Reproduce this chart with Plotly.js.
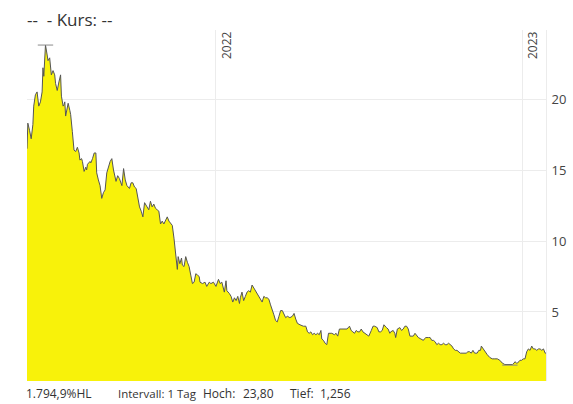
<!DOCTYPE html>
<html>
<head>
<meta charset="utf-8">
<script src="https://cdn.plot.ly/plotly-3.0.1.min.js"></script>
<style>html,body{margin:0;padding:0;background:#fff;}#chart{width:573px;height:404px;}</style>
</head>
<body>
<div id="chart"></div>
<script>
// Kursdaten (Tagesintervall)
var dates = [
"2021-05-21","2021-05-22","2021-05-24","2021-05-26","2021-05-28","2021-05-29","2021-05-31","2021-06-02","2021-06-04","2021-06-06",
"2021-06-08","2021-06-09","2021-06-10","2021-06-12","2021-06-14","2021-06-15","2021-06-17","2021-06-18","2021-06-19","2021-06-21",
"2021-06-23","2021-06-24","2021-06-26","2021-06-28","2021-06-30","2021-07-01","2021-07-03","2021-07-04","2021-07-05","2021-07-06",
"2021-07-09","2021-07-11","2021-07-12","2021-07-14","2021-07-16","2021-07-18","2021-07-20","2021-07-22","2021-07-23","2021-07-25",
"2021-07-26","2021-07-28","2021-07-30","2021-07-31","2021-08-01","2021-08-04","2021-08-05","2021-08-07","2021-08-09","2021-08-11",
"2021-08-12","2021-08-14","2021-08-16","2021-08-18","2021-08-20","2021-08-22","2021-08-24","2021-08-28","2021-08-30","2021-09-01",
"2021-09-04","2021-09-06","2021-09-08","2021-09-11","2021-09-12","2021-09-13","2021-09-15","2021-09-17","2021-09-20","2021-09-22",
"2021-09-24","2021-09-26","2021-09-28","2021-09-30","2021-10-02","2021-10-04","2021-10-06","2021-10-08","2021-10-10","2021-10-13",
"2021-10-15","2021-10-17","2021-10-19","2021-10-21","2021-10-23","2021-10-25","2021-10-27","2021-10-29","2021-10-31","2021-11-02",
"2021-11-04","2021-11-06","2021-11-08","2021-11-10","2021-11-12","2021-11-14","2021-11-16","2021-11-17","2021-11-19","2021-11-21",
"2021-11-22","2021-11-24","2021-11-26","2021-11-28","2021-11-30","2021-12-02","2021-12-04","2021-12-06","2021-12-08","2021-12-10",
"2021-12-12","2021-12-13","2021-12-16","2021-12-19","2021-12-21","2021-12-24","2021-12-26","2021-12-29","2022-01-01","2022-01-04",
"2022-01-06","2022-01-08","2022-01-10","2022-01-11","2022-01-13","2022-01-14","2022-01-17","2022-01-19","2022-01-21","2022-01-23",
"2022-01-25","2022-01-27","2022-01-29","2022-01-30","2022-02-01","2022-02-03","2022-02-05","2022-02-07","2022-02-09","2022-02-11",
"2022-02-13","2022-02-15","2022-02-17","2022-02-19","2022-02-21","2022-02-23","2022-02-25","2022-02-27","2022-03-01","2022-03-03",
"2022-03-05","2022-03-07","2022-03-09","2022-03-11","2022-03-13","2022-03-15","2022-03-17","2022-03-19","2022-03-21","2022-03-23",
"2022-03-25","2022-03-27","2022-03-29","2022-03-30","2022-04-02","2022-04-04","2022-04-06","2022-04-08","2022-04-11","2022-04-15",
"2022-04-18","2022-04-20","2022-04-22","2022-04-24","2022-04-26","2022-04-28","2022-04-30","2022-05-02","2022-05-04","2022-05-06",
"2022-05-07","2022-05-09","2022-05-11","2022-05-13","2022-05-15","2022-05-17","2022-05-19","2022-05-22","2022-05-24","2022-05-26",
"2022-05-28","2022-05-31","2022-06-03","2022-06-06","2022-06-09","2022-06-11","2022-06-13","2022-06-15","2022-06-17","2022-06-19",
"2022-06-21","2022-06-23","2022-06-25","2022-06-27","2022-06-30","2022-07-02","2022-07-05","2022-07-07","2022-07-09","2022-07-12",
"2022-07-14","2022-07-16","2022-07-18","2022-07-20","2022-07-23","2022-07-25","2022-07-27","2022-07-28","2022-07-31","2022-08-02",
"2022-08-03","2022-08-05","2022-08-08","2022-08-10","2022-08-12","2022-08-14","2022-08-16","2022-08-18","2022-08-20","2022-08-24",
"2022-08-26","2022-08-28","2022-08-30","2022-09-02","2022-09-05","2022-09-06","2022-09-08","2022-09-11","2022-09-13","2022-09-15",
"2022-09-17","2022-09-19","2022-09-21","2022-09-23","2022-09-25","2022-09-27","2022-09-29","2022-10-01","2022-10-03","2022-10-05",
"2022-10-07","2022-10-09","2022-10-11","2022-10-13","2022-10-15","2022-10-17","2022-10-19","2022-10-21","2022-10-24","2022-10-26",
"2022-10-28","2022-10-30","2022-11-01","2022-11-03","2022-11-05","2022-11-08","2022-11-10","2022-11-12","2022-11-13","2022-11-15",
"2022-11-17","2022-11-20","2022-11-23","2022-11-26","2022-11-29","2022-12-02","2022-12-05","2022-12-08","2022-12-11","2022-12-14",
"2022-12-17","2022-12-20","2022-12-22","2022-12-23","2022-12-25","2022-12-26","2022-12-29","2022-12-31","2023-01-02","2023-01-04",
"2023-01-06","2023-01-08","2023-01-10","2023-01-12","2023-01-14","2023-01-16","2023-01-18","2023-01-20","2023-01-22","2023-01-24",
"2023-01-26","2023-01-28","2023-01-29"
];
var prices = [
16.5,18.3,17.8,17.2,18.2,19.5,20.3,20.5,19.5,19.8,
20.5,22.2,21.6,23.8,23.1,22.7,22.9,22.4,21.7,22.0,
21.7,21.1,20.6,21.2,21.7,20.2,19.5,19.6,19.8,18.8,
19.7,19.2,18.9,17.7,16.4,16.3,16.6,16.2,15.7,15.8,
15.6,14.9,15.2,15.0,15.4,15.6,15.5,15.8,16.2,16.2,
14.8,14.3,13.9,13.0,13.4,13.6,14.8,15.6,15.8,15.0,
14.2,14.6,14.4,13.9,14.9,15.1,14.3,13.9,13.7,14.1,
14.1,13.8,13.7,13.0,12.4,12.1,11.7,12.7,12.5,12.2,
12.8,12.4,12.6,12.3,12.2,12.1,11.2,11.4,11.2,11.4,
11.7,11.4,11.2,11.1,10.2,9.0,8.0,8.9,8.4,8.8,
8.3,8.2,8.9,8.5,8.2,7.6,7.0,7.1,7.7,7.6,
7.5,7.1,7.0,7.1,6.8,7.1,7.0,7.1,6.8,7.3,
7.0,7.1,6.5,6.4,7.2,6.5,6.3,6.1,5.7,6.0,
5.8,6.1,5.6,6.0,6.4,5.8,6.1,6.4,6.5,6.4,
6.9,6.7,6.4,6.3,6.1,5.8,5.7,6.1,6.0,6.0,
5.9,5.5,5.2,4.8,4.4,4.3,4.7,5.1,5.1,4.9,
4.6,4.7,4.6,4.6,4.7,4.9,4.5,4.2,4.1,4.0,
4.0,3.6,3.5,3.6,3.4,3.5,3.4,3.5,3.4,3.7,
3.1,3.0,2.8,2.7,3.5,3.5,3.5,3.4,3.5,3.3,
3.8,3.8,3.8,3.8,4.0,3.7,3.6,3.5,3.7,3.6,
3.6,3.8,3.6,3.5,3.4,3.3,3.7,4.0,4.0,3.9,
3.6,3.6,3.7,4.1,3.9,3.8,3.5,3.6,3.7,3.5,
3.2,3.8,3.9,3.7,3.8,4.0,4.0,3.8,3.3,3.3,
3.5,3.3,3.2,3.1,3.0,3.1,3.2,3.2,3.2,3.0,
3.0,2.9,2.7,2.8,2.7,2.7,2.8,2.7,2.7,2.8,
2.7,2.6,2.4,2.3,2.3,2.2,2.1,2.1,2.1,2.1,
2.2,2.2,2.1,2.3,2.1,2.1,2.3,2.3,2.6,2.4,
2.2,2.0,1.8,1.7,1.7,1.7,1.6,1.4,1.3,1.3,
1.256,1.3,1.4,1.5,1.4,1.4,1.6,1.6,1.7,1.7,
2.2,2.4,2.3,2.6,2.4,2.4,2.3,2.4,2.4,2.3,
2.4,2.1,2.1
];
var hiDate = ["2021-06-12"], hiVal = [23.80];
var loDate = ["2022-12-17"], loVal = [1.256];
var yTicks = [5, 10, 15, 20];
var xTickVals = ["2022-01-01", "2023-01-01"];
var xTickText = ["2022", "2023"];
var titleText = "--\u00a0\u00a0- Kurs: --";
var footTexts = ["1.794,9%HL", "Intervall: 1 Tag", "Hoch:", "23,80", "Tief:", "1,256"];

var traces = [
  {
    x: dates, y: prices, type: "scatter", mode: "lines",
    fill: "tozeroy", fillcolor: "rgba(248,241,0,0.96)",
    line: {color: "#555", width: 1}, hoverinfo: "skip", showlegend: false
  },
  {
    x: hiDate.concat(loDate), y: hiVal.concat(loVal), type: "scatter", mode: "markers",
    marker: {symbol: "line-ew", size: 11, line: {color: "#8a8a8a", width: 1}, color: "#8a8a8a"},
    showlegend: false, hoverinfo: "skip"
  }
];

// left edges (px) of the footer texts
var footX = [24, 116, 201, 241, 288, 318];
var footSize = [12, 11.5, 12, 12, 12, 12];
var annotations = footTexts.map(function (t, i) {
  return {
    text: t, xref: "paper", yref: "paper", x: (footX[i] - 27) / 519,
    y: -0.036, xanchor: "left", yanchor: "middle", showarrow: false,
    font: {family: "Open Sans, sans-serif", size: footSize[i], color: "#333"}
  };
});

var layout = {
  width: 573, height: 404,
  margin: {l: 27, r: 27, t: 30, b: 23},
  paper_bgcolor: "#fff", plot_bgcolor: "#fff",
  font: {family: "Open Sans, sans-serif", color: "#444"},
  title: {text: titleText, x: 0, xref: "paper", xanchor: "left", y: 0.95, yref: "container", yanchor: "middle",
          font: {family: "Open Sans, sans-serif", size: 17, color: "#333"}},
  xaxis: {
    type: "date", range: [dates[0], dates[dates.length - 1]],
    side: "top", tickvals: xTickVals, ticktext: xTickText, tickangle: -90,
    ticklabelposition: "inside", ticklabelshift: 11, ticklabelstandoff: -8,
    tickfont: {size: 12, color: "#444"},
    showgrid: true, gridcolor: "#ececec", gridwidth: 1, zeroline: false, showline: false, ticks: ""
  },
  yaxis: {
    side: "right", range: [0.14, 24.86], tickvals: yTicks,
    tickfont: {size: 13, color: "#444"}, ticklabelstandoff: 2,
    showgrid: true, gridcolor: "#ececec", zeroline: false,
    showline: true, linecolor: "#ececec", ticks: ""
  },
  annotations: annotations,
  showlegend: false
};

Plotly.newPlot("chart", traces, layout, {displayModeBar: false, staticPlot: true});
</script>
</body>
</html>
